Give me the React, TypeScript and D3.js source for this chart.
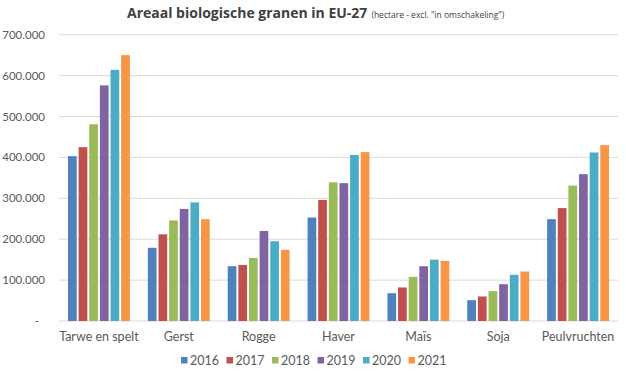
import React from "react";
import * as d3 from "d3";

const categories = ["Tarwe en spelt", "Gerst", "Rogge", "Haver", "Maïs", "Soja", "Peulvruchten"];
const years = ["2016", "2017", "2018", "2019", "2020", "2021"];
const v2016 = [403000, 179000, 134000, 253000, 68000, 51000, 249000];
const v2017 = [425000, 212000, 137000, 296000, 82000, 60000, 276000];
const v2018 = [481000, 246000, 154000, 339000, 108000, 73000, 331000];
const v2019 = [576000, 274000, 220000, 337000, 134000, 90000, 359000];
const v2020 = [614000, 290000, 195000, 406000, 150000, 113000, 412000];
const v2021 = [650000, 249000, 174000, 413000, 147000, 121000, 430000];
const yTicks = [0, 100000, 200000, 300000, 400000, 500000, 600000, 700000];
const colors = ["#4F81BD", "#C0504D", "#9BBB59", "#8064A2", "#4BACC6", "#F79646"];

const series = [v2016, v2017, v2018, v2019, v2020, v2021];

const W = 626, H = 375;
const left = 59, right = 618, top = 34.7, bottom = 321;
const font = "Lato, 'Open Sans', sans-serif";

export default function App() {
  const x0 = d3.scaleBand().domain(categories).range([left, right]).paddingInner(0.225).paddingOuter(0.1125);
  const x1 = d3.scaleBand().domain(years).range([0, x0.bandwidth()]).paddingInner(0.18);
  const y = d3.scaleLinear().domain([0, 700000]).range([bottom, top]);
  const fmt = (v: number) => (v === 0 ? "-" : d3.format(",")(v).replace(/,/g, "."));

  return (
    <svg width={W} height={H} style={{ position: "absolute", left: 0, top: 0, background: "#fff" }}>
      <text x={127} y={18} fontFamily="'Open Sans', sans-serif" fill="#404040">
        <tspan fontSize={14} fontWeight="bold">Areaal biologische granen in EU-27</tspan>
        <tspan fontSize={8.5} dx={4}>(hectare - excl. "in omschakeling")</tspan>
      </text>
      {yTicks.map((t) => (
        <g key={t}>
          <line x1={left} x2={right} y1={y(t)} y2={y(t)} stroke="#d9d9d9" strokeWidth={1} />
          <text
            x={t === 0 ? 39 : 45}
            y={y(t)}
            dy="0.35em"
            textAnchor="end"
            fontFamily={font}
            fontSize={11.5}
            fill="#595959"
          >
            {fmt(t)}
          </text>
        </g>
      ))}
      {categories.map((c, ci) => (
        <g key={c} transform={`translate(${x0(c)},0)`}>
          {series.map((s, si) => (
            <rect
              key={si}
              x={x1(years[si])}
              y={y(s[ci])}
              width={x1.bandwidth()}
              height={bottom - y(s[ci])}
              fill={colors[si]}
            />
          ))}
          <text
            x={x0.bandwidth() / 2}
            y={341}
            textAnchor="middle"
            fontFamily={font}
            fontSize={12.5}
            fill="#595959"
          >
            {c}
          </text>
        </g>
      ))}
      {years.map((yr, i) => {
        const lx = 181 + i * 45.5;
        return (
          <g key={yr}>
            <rect x={lx} y={357} width={6.5} height={6.5} fill={colors[i]} />
            <text x={lx + 9} y={360.5} dy="0.35em" fontFamily={font} fontSize={12.5} fill="#595959">
              {yr}
            </text>
          </g>
        );
      })}
    </svg>
  );
}
